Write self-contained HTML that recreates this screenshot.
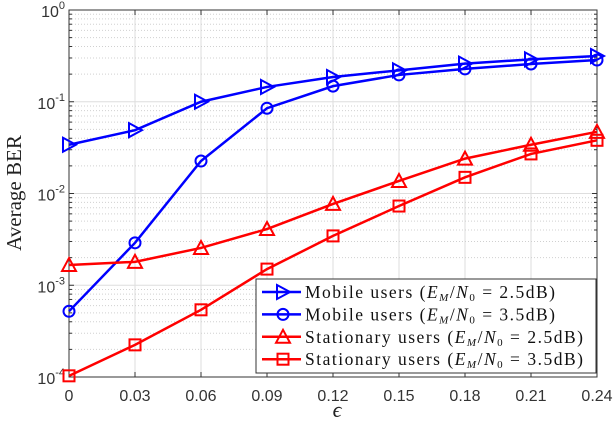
<!DOCTYPE html>
<html><head><meta charset="utf-8"><style>
body{margin:0;background:#fff}
svg text{font-family:"Liberation Sans",sans-serif}
.ser{font-family:"Liberation Serif",serif}
</style></head><body>
<svg id="chart" width="614" height="434" xmlns="http://www.w3.org/2000/svg">
<g id="grid"></g>
<g id="axes"></g>
<g id="series"></g>
<text class="ser" x="0" y="0" transform="translate(21,193) rotate(-90)" text-anchor="middle" font-size="21" fill="#222">Average BER</text>
<text class="ser" x="337" y="417" text-anchor="middle" font-size="22" font-style="italic" fill="#222">ϵ</text>
<g id="legend"></g>
</svg>
<script>
const xTicks=[0,0.03,0.06,0.09,0.12,0.15,0.18,0.21,0.24];
const xTickLabels=["0","0.03","0.06","0.09","0.12","0.15","0.18","0.21","0.24"];
const yDecades=[0,-1,-2,-3,-4];
const seriesNames=["Mobile users (E_M/N0 = 2.5dB)","Mobile users (E_M/N0 = 3.5dB)","Stationary users (E_M/N0 = 2.5dB)","Stationary users (E_M/N0 = 3.5dB)"];
const mobile25=[0.034,0.049,0.1,0.145,0.186,0.22,0.26,0.29,0.315];
const mobile35=[0.00052,0.0029,0.0226,0.085,0.148,0.196,0.228,0.258,0.285];
const stat25=[0.00166,0.0018,0.00255,0.0041,0.0077,0.0137,0.024,0.034,0.047];
const stat35=[0.000103,0.000224,0.00054,0.0015,0.00345,0.0073,0.015,0.027,0.038];
const L=69,R=597,T=10,B=377;
const NS="http://www.w3.org/2000/svg";
function X(v){return L+(v-0)/(0.24)*(R-L);}
function Y(v){return T+(0-Math.log10(v))/4*(B-T);}
function mk(tag,attrs,parent){const e=document.createElementNS(NS,tag);for(const k in attrs)e.setAttribute(k,attrs[k]);parent.appendChild(e);return e;}
const grid=document.getElementById('grid'),axes=document.getElementById('axes'),ser=document.getElementById('series'),leg=document.getElementById('legend');
xTicks.forEach(t=>{const l=mk('line',{x1:X(t),x2:X(t),y1:T,y2:B,stroke:'#dedede','stroke-width':1},grid);
});
for(let d=-4;d<0;d++){for(let m=2;m<=9;m++){const v=m*Math.pow(10,d);
const l=mk('line',{x1:L,x2:R,y1:Y(v),y2:Y(v),stroke:'#d0d0d0','stroke-width':1,'stroke-dasharray':'1,2'},grid);
}}
yDecades.forEach(d=>{const l=mk('line',{x1:L,x2:R,y1:Y(Math.pow(10,d)),y2:Y(Math.pow(10,d)),stroke:'#dedede','stroke-width':1},grid);
});
const box=mk('rect',{x:L,y:T,width:R-L,height:B-T,fill:'none',stroke:'#333','stroke-width':1},axes);

xTicks.forEach((t,i)=>{mk('line',{x1:X(t),x2:X(t),y1:B,y2:B-5,stroke:'#333'},axes);mk('line',{x1:X(t),x2:X(t),y1:T,y2:T+5,stroke:'#333'},axes);
const tx=mk('text',{x:X(t),y:B+24,'text-anchor':'middle','font-size':16,fill:'#333'},axes);tx.textContent=xTickLabels[i];
});
for(let d=-4;d<0;d++){for(let m=2;m<=9;m++){const y=Y(m*Math.pow(10,d));mk('line',{x1:L,x2:L+3,y1:y,y2:y,stroke:'#333'},axes);mk('line',{x1:R,x2:R-3,y1:y,y2:y,stroke:'#333'},axes);}}
yDecades.forEach(d=>{const y=Y(Math.pow(10,d));mk('line',{x1:L,x2:L+5,y1:y,y2:y,stroke:'#333'},axes);mk('line',{x1:R,x2:R-5,y1:y,y2:y,stroke:'#333'},axes);
const tx=mk('text',{x:L-4,y:y+7,'text-anchor':'end','font-size':16,fill:'#333'},axes);
tx.innerHTML='10<tspan dy="-8" font-size="11">'+d+'</tspan>';
});
function marker(type,x,y,col,g){
 if(type==='tri-r') return mk('polygon',{points:`${x-6},${y-7} ${x+7},${y} ${x-6},${y+7}`,fill:'none',stroke:col,'stroke-width':2},g);
 if(type==='circ') return mk('circle',{cx:x,cy:y,r:5.5,fill:'none',stroke:col,'stroke-width':2},g);
 if(type==='tri-u') return mk('polygon',{points:`${x-7},${y+6} ${x},${y-7} ${x+7},${y+6}`,fill:'none',stroke:col,'stroke-width':2},g);
 return mk('rect',{x:x-5.5,y:y-5.5,width:11,height:11,fill:'none',stroke:col,'stroke-width':2},g);
}
const all=[[mobile25,'#0000ff','tri-r','mobile-2.5db'],[mobile35,'#0000ff','circ','mobile-3.5db'],[stat25,'#ff0000','tri-u','stationary-2.5db'],[stat35,'#ff0000','sq','stationary-3.5db']];
all.forEach(([vals,col,mt,nm])=>{
 const g=mk('g',{},ser);
 const pts=vals.map((v,i)=>X(xTicks[i])+','+Y(v)).join(' ');
 const pl=mk('polyline',{points:pts,fill:'none',stroke:col,'stroke-width':2.5},g);
 
 vals.forEach((v,i)=>{const m=marker(mt,X(xTicks[i]),Y(v),col,g);
 });
});
const lb=mk('rect',{x:256,y:279,width:340,height:94,fill:'#fff',stroke:'#333','stroke-width':1},leg);

const labels=[['Mobile users','2.5'],['Mobile users','3.5'],['Stationary users','2.5'],['Stationary users','3.5']];
const legW=[250,250,278,278];
all.forEach(([vals,col,mt,nm],i)=>{
 const y=292+i*22.4;
 const g=mk('g',{},leg);
 mk('line',{x1:262,x2:301,y1:y,y2:y,stroke:col,'stroke-width':2.5},g);
 marker(mt,283,y,col,g);
 const t=mk('text',{x:305,y:y+6,'font-size':17.5,fill:'#111',class:'ser',textLength:legW[i],lengthAdjust:'spacing'},g);
 t.innerHTML=labels[i][0]+' (<tspan font-style="italic">E</tspan><tspan font-size="11" dy="3" font-style="italic">M</tspan><tspan dy="-3">/</tspan><tspan font-style="italic">N</tspan><tspan font-size="11" dy="3">0</tspan><tspan dy="-3">  =  '+labels[i][1]+'dB)</tspan>';
});
</script>
</body></html>
